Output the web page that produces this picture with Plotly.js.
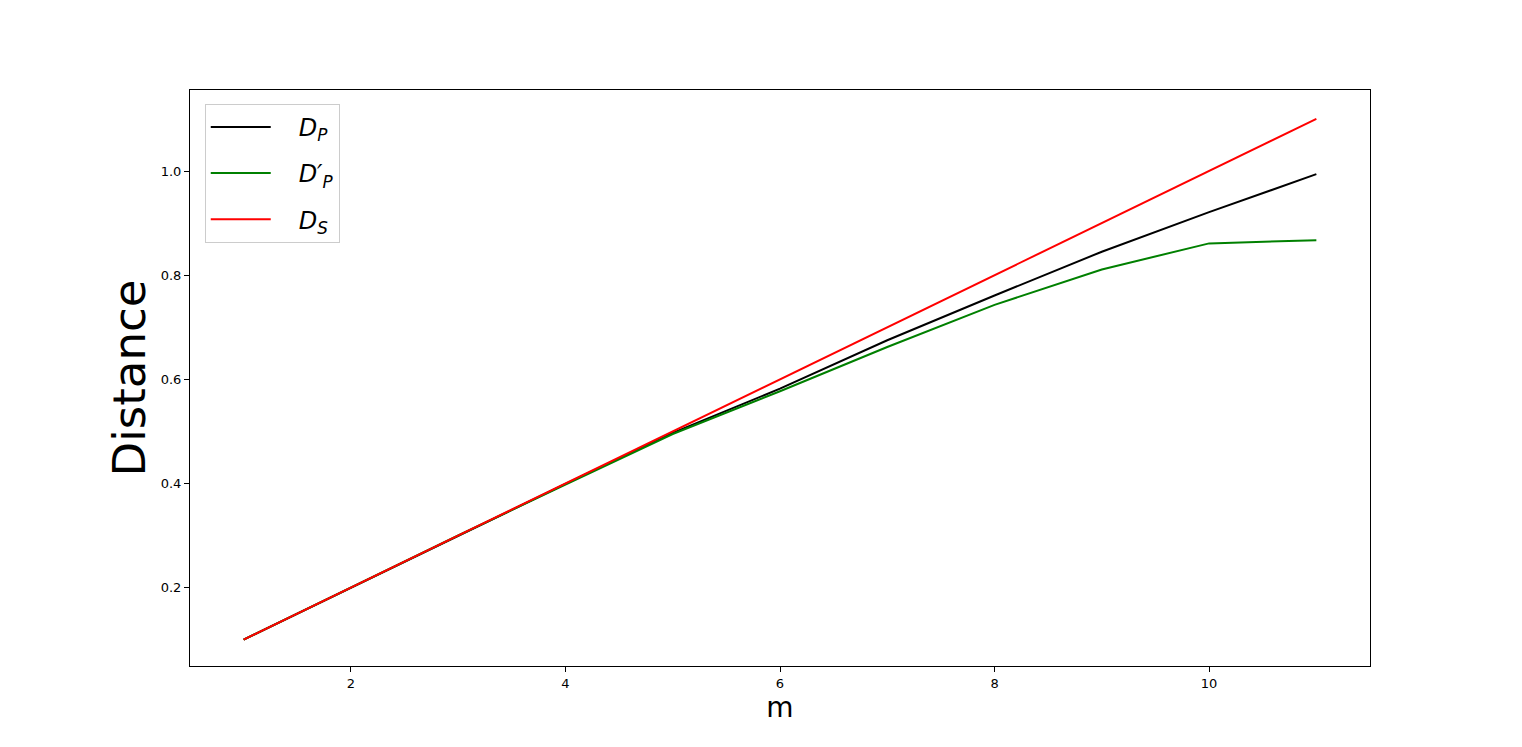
<!DOCTYPE html>
<html>
<head>
<meta charset="utf-8">
<script src="https://cdn.plot.ly/plotly-3.0.1.min.js"></script>
<style>html,body{margin:0;padding:0;background:#fff;}#chart{width:1522px;height:747px;}</style>
</head>
<body>
<div id="chart"></div>
<script>
const m = [1, 2, 3, 4, 5, 6, 7, 8, 9, 10, 11];
const dP = [0.1, 0.2, 0.3, 0.399, 0.497, 0.582, 0.675, 0.761, 0.845, 0.921, 0.994];
const dPprime = [0.1, 0.2, 0.3, 0.398, 0.495, 0.577, 0.662, 0.743, 0.811, 0.861, 0.867];
const dS = [0.1, 0.2, 0.3, 0.4, 0.5, 0.6, 0.7, 0.8, 0.9, 1.0, 1.1];
const seriesNames = ["<i>D</i><sub><i>P</i></sub>", "<i>D′</i><sub><i>P</i></sub>", "<i>D</i><sub><i>S</i></sub>"];
const xTicks = [2, 4, 6, 8, 10];
const yTicks = [0.2, 0.4, 0.6, 0.8, 1.0];

const pad = "&nbsp;&nbsp;&nbsp;";
const traces = [
  {x: m, y: dP, name: pad + seriesNames[0], legendgroup: "a", mode: "lines", line: {color: "#000000", width: 2}},
  {x: m, y: dPprime, name: pad + seriesNames[1], legendgroup: "b", mode: "lines", line: {color: "#008000", width: 2}},
  {x: m, y: dS, name: pad + seriesNames[2], legendgroup: "c", mode: "lines", line: {color: "#ff0000", width: 2}}
];

const layout = {
  width: 1522, height: 747,
  paper_bgcolor: "#ffffff", plot_bgcolor: "#ffffff",
  margin: {l: 190, r: 152, t: 90, b: 81},
  font: {family: "DejaVu Sans, sans-serif", color: "#000"},
  showlegend: true,
  legend: {
    x: 0.0125, y: 0.976, xanchor: "left", yanchor: "top",
    bgcolor: "rgba(255,255,255,0.8)", bordercolor: "#cccccc", borderwidth: 1,
    font: {size: 24, family: "DejaVu Sans, sans-serif"},
    itemwidth: 60, tracegroupgap: 12
  },
  xaxis: {
    range: [0.5, 11.5], tickvals: xTicks, ticktext: xTicks.map(String),
    showgrid: false, zeroline: false, showline: true, linecolor: "#000", linewidth: 1, mirror: true,
    ticks: "outside", ticklen: 5, tickcolor: "#000", tickfont: {size: 13},
    title: {text: "m", font: {size: 28}, standoff: 6}
  },
  yaxis: {
    range: [0.0494, 1.1556], tickvals: yTicks, ticktext: yTicks.map(v => v.toFixed(1)),
    showgrid: false, zeroline: false, showline: true, linecolor: "#000", linewidth: 1, mirror: true,
    ticks: "outside", ticklen: 5, tickcolor: "#000", tickfont: {size: 13},
    title: {text: "Distance", font: {size: 45}, standoff: 0}
  }
};

Plotly.newPlot("chart", traces, layout, {displayModeBar: false, staticPlot: true});
</script>
</body>
</html>
